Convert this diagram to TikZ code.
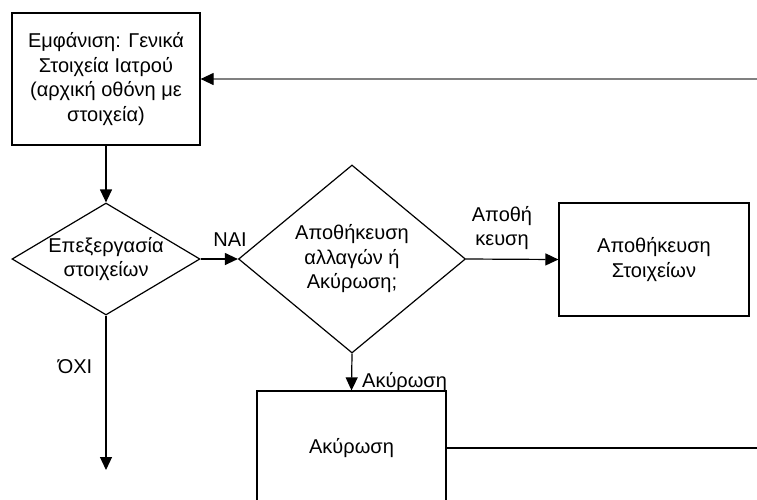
\documentclass[tikz,border=0pt]{standalone}
\usepackage{fontspec}
\setmainfont{Liberation Sans}
\usetikzlibrary{shapes.geometric,arrows.meta}
\begin{document}
\begin{tikzpicture}[x=1pt,y=-1pt,
  every node/.style={font=\fontsize{20}{24.5}\selectfont, align=center},
  box/.style={draw, rectangle, inner sep=0pt, line width=1.2pt},
  dmd/.style={draw, diamond, inner sep=0pt, line width=1.2pt},
  conn/.style={line width=1.2pt, -{Triangle[length=13pt,width=12pt,black]}},
  plain/.style={line width=1.2pt},
  lbl/.style={inner sep=0pt}]
\clip (0,0) rectangle (757,499);
\fill[white] (0,0) rectangle (757,499);
% nodes
\node[box, minimum width=188, minimum height=132] (top) at (106,79) {};
\node at (top) {Εμφάνιση: Γενικά\\Στοιχεία Ιατρού\\(αρχική οθόνη με\\στοιχεία)};
\node[dmd, minimum width=188, minimum height=112] (d1) at (106,259) {};
\node at (d1) {Επεξεργασία\\στοιχείων};
\node[dmd, minimum width=227, minimum height=188] (d2) at (352,259) {};
\node at (d2) {Αποθήκευση\\αλλαγών ή\\Ακύρωση;};
\node[box, minimum width=190, minimum height=113] (save) at (654,259.5) {};
\node at (save) {Αποθήκευση\\Στοιχείων};
\node[box, minimum width=189, minimum height=114] (cancel) at (351.5,448) {};
\node at (cancel) {Ακύρωση};
\coordinate (fb) at (757,79);
\coordinate (no) at (106,470);
\coordinate (out) at (757,448);
% connectors
\draw[conn, draw=gray] (fb) -- (top.east);
\draw[conn] (top.south) -- (d1.north);
\draw[conn] (d1.east) -- (d2.west);
\draw[conn] (d2.east) -- (save.west);
\draw[conn] (d2.south) -- (cancel.north);
\draw[conn] (d1.south) -- (no);
\draw[plain] (cancel.east) -- (out);
% labels
\node[lbl] (lnai) at (230,240) {ΝΑΙ};
\node[lbl] (lsave) at (502,228) {Αποθή\\κευση};
\node[lbl, anchor=west] (lcancel) at (362,382) {Ακύρωση};
\node[lbl] (lno) at (75,367) {ΌΧΙ};
\end{tikzpicture}
\end{document}
